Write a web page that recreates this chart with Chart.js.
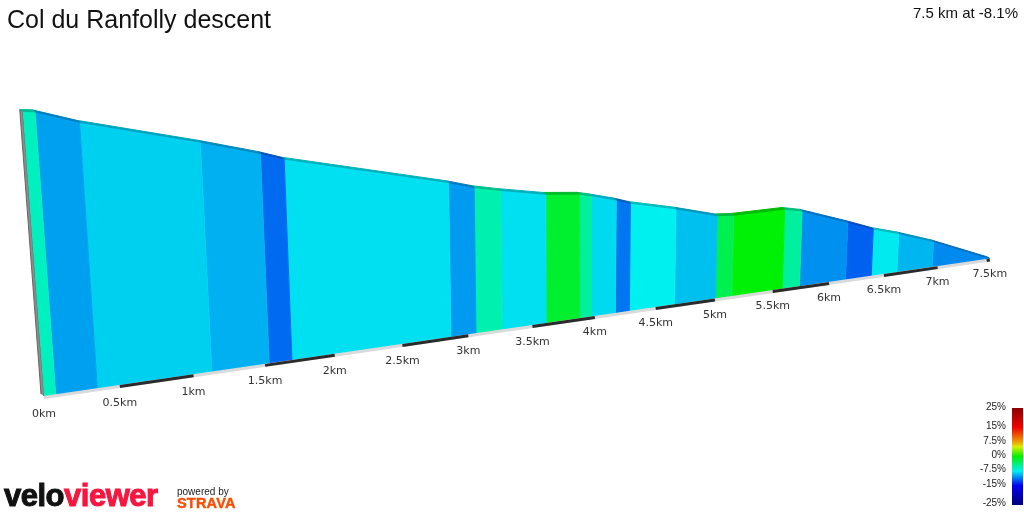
<!DOCTYPE html>
<html>
<head>
<meta charset="utf-8">
<script src="https://cdn.jsdelivr.net/npm/chart.js@4.4.1/dist/chart.umd.min.js"></script>
<style>
  html, body { margin: 0; padding: 0; background: #fff; }
  #wrap { position: relative; width: 1024px; height: 512px; overflow: hidden; font-family: "Liberation Sans", Arial, sans-serif; color: #111; }
  #profile { position: absolute; left: 0; top: 0; }
  #title { position: absolute; left: 7px; top: 7px; font-size: 25px; line-height: 25px; white-space: nowrap; }
  #summary { position: absolute; right: 6px; top: 5px; font-size: 15px; line-height: 15px; white-space: nowrap; }
  #scaleBar { position: absolute; left: 1012px; top: 408px; width: 11px; height: 97px; }
  .scaleLbl { position: absolute; right: 18px; font-size: 10px; line-height: 10px; color: #222; }
  #logo { position: absolute; left: 4px; top: 480px; font-size: 31px; line-height: 31px; font-weight: bold; letter-spacing: -0.5px; -webkit-text-stroke: 1px; white-space: nowrap; }
  #logo .velo { color: #111; }
  #logo .viewer { color: #f7163f; }
  #powered { position: absolute; left: 177px; top: 487px; font-size: 10px; line-height: 10px; color: #222; }
  #strava { position: absolute; left: 177px; top: 496px; font-size: 14.5px; line-height: 14px; font-weight: bold; color: #fc4c02; letter-spacing: 0.2px; -webkit-text-stroke: 0.4px; }
</style>
</head>
<body>
<div id="wrap">
  <canvas id="profile" width="1024" height="512"></canvas>
  <div id="title">Col du Ranfolly descent</div>
  <div id="summary">7.5 km at -8.1%</div>
  <div id="scaleBar"></div>
  <div id="logo"><span class="velo">velo</span><span class="viewer">viewer</span></div>
  <div id="powered">powered by</div>
  <div id="strava">STRAVA</div>
</div>
<script>
// distance (km) where the colour changes, and height above the finish (m) there
const segKm = [0, 0.076, 0.35, 1.127, 1.529, 1.691, 2.867, 3.059, 3.261, 3.608, 3.875, 3.969,
  4.167, 4.282, 4.657, 5.004, 5.144, 5.583, 5.736, 6.149, 6.383, 6.619, 6.95, 7.5];
const heightM = [607, 604, 573, 505, 467, 449, 356, 338, 324, 303, 294, 287,
  270, 258, 231, 202, 198, 197, 187, 144, 118, 98, 65, 0];
// gradient of each segment (%)
const segGrade = [-6, -10, -8.5, -9.5, -11.7, -8, -10.2, -5.5, -8, -1.5, -5, -8.2,
  -11.3, -7.5, -9, -2.5, -0.2, -5, -10.5, -12, -7.7, -9.3, -10.7];
// distance markers on the base
const tickKm = [0, 0.5, 1, 1.5, 2, 2.5, 3, 3.5, 4, 4.5, 5, 5.5, 6, 6.5, 7, 7.5];
const tickLabels = ['0km', '0.5km', '1km', '1.5km', '2km', '2.5km', '3km', '3.5km', '4km',
  '4.5km', '5km', '5.5km', '6km', '6.5km', '7km', '7.5km'];
const darkBands = [[0.5, 1], [1.5, 2], [2.5, 3], [3.5, 4], [4.5, 5], [5.5, 6], [6.5, 7], [7.47, 7.5]];
// colour key
const keyGrades = [25, 15, 7.5, 0, -7.5, -15, -25];
const keyLabels = ['25%', '15%', '7.5%', '0%', '-7.5%', '-15%', '-25%'];

// 3d view of the ribbon (screen units)
const view = { x0: 44, y0: 396, ax: 153.9, ay: -22.37, persp: 0.02938, vpX: 560, vpY: 7300,
  pxPerM: 0.47, depthX: -3, depthY: -2 };

function project(km, m) {
  const w = 1 + view.persp * km;
  const bx = view.x0 + view.ax * km / w;
  const by = view.y0 + view.ay * km / w;
  const ux = bx - view.vpX, uy = by - view.vpY;
  const len = Math.hypot(ux, uy);
  const hp = m * view.pxPerM / w;
  return { x: bx + ux / len * hp, y: by + uy / len * hp };
}
function back(p, km) {
  const w = 1 + view.persp * km;
  return { x: p.x + view.depthX / w, y: p.y + view.depthY / w };
}
function below(p, px) {
  return { x: p.x, y: p.y + px };
}

function gradeRgb(g) {
  const v = 240;
  let hue;
  if (g < -15) {
    const t = Math.min(1, (-15 - g) / 10);
    return [0, 0, Math.round(v - t * 115)];
  }
  if (g > 15) {
    const t = Math.min(1, (g - 15) / 10);
    return [Math.round(v - t * 100), 0, 0];
  }
  if (g <= 0) hue = 120 - 8 * g;
  else if (g <= 7.5) hue = 120 - g * 10.7;
  else hue = 40 - (g - 7.5) * 5.33;
  const h = hue / 60;
  const f = h - Math.floor(h);
  const i = Math.floor(h) % 6;
  const q = Math.round(v * (1 - f)), t = Math.round(v * f);
  return [[v, t, 0], [q, v, 0], [0, v, t], [0, q, v], [t, 0, v], [v, 0, q]][i];
}
const rgb = (c, k = 1) => `rgb(${Math.round(c[0] * k)},${Math.round(c[1] * k)},${Math.round(c[2] * k)})`;

const datasets = [];
function poly(points, fill, edge, order) {
  datasets.push({ data: points, fill: 'shape', backgroundColor: fill, borderColor: edge,
    borderWidth: 1, pointRadius: 0, order });
}
function strip(points, color, width, order) {
  datasets.push({ data: points, fill: false, borderColor: color, borderWidth: width,
    pointRadius: 0, order });
}

// start face
const b0 = project(0, 0), t0 = project(0, heightM[0]);
poly([b0, t0, back(t0, 0), back(b0, 0)], '#8c8c8c', '#666', 4);

// front faces, one per gradient segment
for (let i = 0; i < segGrade.length; i++) {
  const c = gradeRgb(segGrade[i]);
  const k0 = segKm[i], k1 = segKm[i + 1];
  poly([project(k0, 0), project(k1, 0), project(k1, heightM[i + 1]), project(k0, heightM[i])],
    rgb(c), rgb(c), 3);
}
// road surface on top
for (let i = 0; i < segGrade.length; i++) {
  const c = gradeRgb(segGrade[i]);
  const k0 = segKm[i], k1 = segKm[i + 1];
  const a = project(k0, heightM[i]), b = project(k1, heightM[i + 1]);
  poly([a, b, back(b, k1), back(a, k0)], rgb(c, 0.78), rgb(c, 0.78), 2);
}
// distance ruler under the base
strip([below(project(0, 0), 1.5), below(project(7.5, 0), 1.5)], '#dadada', 3, 1);
darkBands.forEach(([a, b]) => {
  strip([below(project(a, 0), 1.5), below(project(b, 0), 1.5)], '#2b2b2b', 3, 0);
});

const kmLabels = {
  id: 'kmLabels',
  afterDatasetsDraw(chart) {
    const { ctx, scales: { x, y } } = chart;
    ctx.save();
    ctx.font = '11px "DejaVu Sans", sans-serif';
    ctx.fillStyle = '#333';
    ctx.textAlign = 'center';
    ctx.textBaseline = 'middle';
    tickKm.forEach((km, i) => {
      const p = project(km, 0);
      ctx.fillText(tickLabels[i], x.getPixelForValue(p.x), y.getPixelForValue(p.y) + 18 - km * 0.33);
    });
    ctx.restore();
  }
};

new Chart(document.getElementById('profile'), {
  type: 'line',
  data: { datasets },
  options: {
    responsive: false,
    animation: false,
    events: [],
    layout: { padding: 0 },
    plugins: { legend: { display: false }, tooltip: { enabled: false } },
    elements: { line: { tension: 0 } },
    scales: {
      x: { type: 'linear', min: 0, max: 1024, display: false },
      y: { type: 'linear', min: 0, max: 512, reverse: true, display: false }
    }
  },
  plugins: [kmLabels]
});

// colour key
const bar = document.getElementById('scaleBar');
const stops = [];
for (let g = 25; g >= -25; g -= 2.5) {
  stops.push(`${rgb(gradeRgb(g))} ${((25 - g) / 50 * 100).toFixed(1)}%`);
}
bar.style.background = `linear-gradient(to bottom, ${stops.join(', ')})`;
const wrap = document.getElementById('wrap');
keyGrades.forEach((g, i) => {
  const el = document.createElement('div');
  el.className = 'scaleLbl';
  el.textContent = keyLabels[i];
  el.style.top = (455 - g * 1.92 - 5) + 'px';
  wrap.appendChild(el);
});
</script>
</body>
</html>
